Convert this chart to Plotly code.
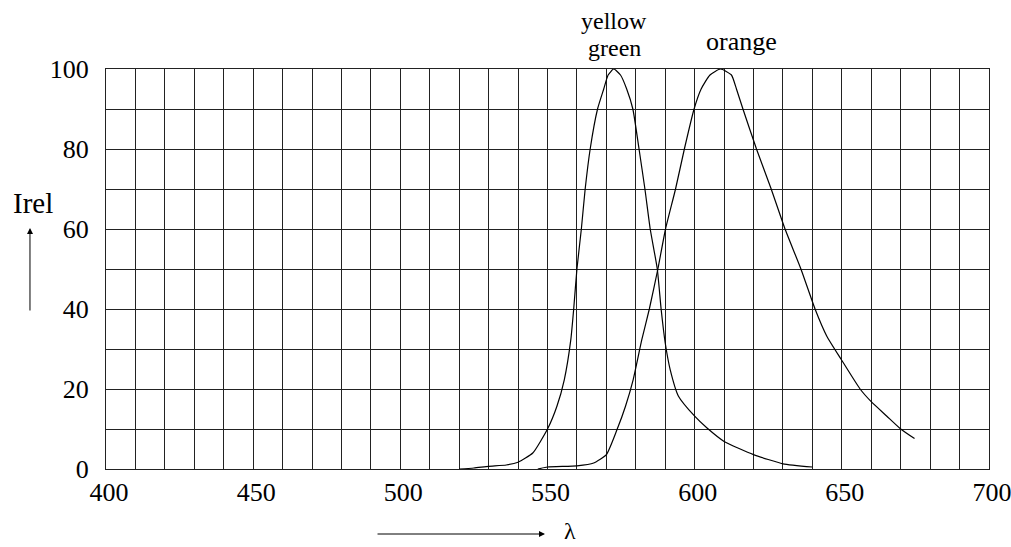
import plotly.graph_objects as go

# Yellow-green spectrum (wavelength nm, relative intensity %)
yg_wl = [520, 525, 530, 536, 540, 545, 550, 553.2, 555.7, 557.9, 558.9, 560, 561.5, 562.8,
         564.5, 567, 569.1, 570.6, 572.5, 574.8, 576.9, 579.0, 581.1, 583.1, 584.9, 587.3, 588.6,
         590, 591.7, 594.5, 600, 604.2, 610, 620, 630, 640]
yg_rel = [0, 0.25, 0.67, 1.0, 1.7, 4, 10, 15.7, 22.3, 32.2, 40, 50, 60, 70,
          80, 90, 95, 98.5, 100, 98.5, 95, 90, 80, 70, 60, 50, 40,
          31.5, 24.8, 18.2, 13.2, 10.25, 6.9, 3.6, 1.3, 0.5]

# Orange spectrum
or_wl = [546.7, 550, 560, 565.7, 570, 573.6, 576.5, 579.1, 582.0, 584.6, 587.5, 590.1, 593.5,
         596.5, 599.8, 602.2, 605.2, 608.8, 612.5, 614.2, 616.4, 621.0, 626.0, 630.7, 636.1, 640.9,
         644.9, 649.7, 656.2, 659.9, 665.3, 670, 674.7]
or_rel = [0, 0.5, 0.8, 1.5, 3.6, 9.8, 15.7, 22.3, 32.2, 40, 50, 60, 70,
          80, 90, 95, 98.5, 100, 98.5, 95, 90, 80, 70, 60, 50, 40,
          33.2, 27.5, 20, 16.9, 13.2, 10, 7.6]

x_ticks = [400, 450, 500, 550, 600, 650, 700]
y_ticks = [0, 20, 40, 60, 80, 100]

FONT = "Liberation Serif"
GRID = "#222222"

fig = go.Figure()
fig.add_trace(go.Scatter(x=yg_wl, y=yg_rel, mode="lines", name="yellow green",
                         line=dict(color="black", width=1.2, shape="spline", smoothing=0.5)))
fig.add_trace(go.Scatter(x=or_wl, y=or_rel, mode="lines", name="orange",
                         line=dict(color="black", width=1.2, shape="spline", smoothing=0.5)))

fig.update_layout(
    width=1011, height=547,
    margin=dict(l=106, r=22, t=69, b=78, pad=0),
    paper_bgcolor="white", plot_bgcolor="white",
    showlegend=False,
    font=dict(family=FONT, size=26, color="black"),
    xaxis=dict(range=[400, 700], tickvals=x_ticks, ticktext=[str(v) for v in x_ticks],
               showgrid=True, gridcolor=GRID, gridwidth=1,
               minor=dict(dtick=10, tick0=400, showgrid=True, gridcolor=GRID, gridwidth=1),
               showline=True, linecolor=GRID, linewidth=1, mirror=True,
               zeroline=False, ticks="", ticklabelstandoff=0, ticklabelshift=3,
               ticklabeloverflow="allow", automargin=False,
               tickfont=dict(family=FONT, size=26, color="black")),
    yaxis=dict(range=[0, 100], tickvals=y_ticks, ticktext=[str(v) for v in y_ticks],
               showgrid=True, gridcolor=GRID, gridwidth=1,
               minor=dict(dtick=10, tick0=0, showgrid=True, gridcolor=GRID, gridwidth=1),
               showline=True, linecolor=GRID, linewidth=1, mirror=True,
               zeroline=False, ticks="", ticklabelstandoff=11,
               ticklabeloverflow="allow", automargin=False,
               tickfont=dict(family=FONT, size=26, color="black")),
)

annotations = [
    dict(text="yellow", x=572.7, y=1.12, xref="x", yref="paper",
         showarrow=False, xanchor="center", yanchor="middle",
         font=dict(family=FONT, size=24, color="black")),
    dict(text="green", x=572.7, y=1.0525, xref="x", yref="paper",
         showarrow=False, xanchor="center", yanchor="middle",
         font=dict(family=FONT, size=24, color="black")),
    dict(text="orange", x=615.8, y=1.068, xref="x", yref="paper",
         showarrow=False, xanchor="center", yanchor="middle",
         font=dict(family=FONT, size=26, color="black")),
    dict(text="Irel", x=-0.0827, y=0.665, xref="paper", yref="paper",
         showarrow=False, xanchor="center", yanchor="middle",
         font=dict(family=FONT, size=29, color="black")),
    # up arrow next to Irel
    dict(text="", x=-0.0861, y=0.6025, xref="paper", yref="paper",
         showarrow=True, ax=0, ay=84, axref="pixel", ayref="pixel",
         arrowhead=2, arrowsize=1.2, arrowwidth=1, arrowcolor="black", standoff=0),
    # right arrow for lambda
    dict(text="", x=0.4972, y=-0.1625, xref="paper", yref="paper",
         showarrow=True, ax=-169, ay=0, axref="pixel", ayref="pixel",
         arrowhead=2, arrowsize=1.2, arrowwidth=1, arrowcolor="black", standoff=0),
    dict(text="λ", x=0.5255, y=-0.154, xref="paper", yref="paper",
         showarrow=False, xanchor="center", yanchor="middle",
         font=dict(family=FONT, size=24, color="black")),
]
fig.update_layout(annotations=annotations)

fig.write_html("out.html", config={"displayModeBar": False},
               post_script="document.body.style.margin='0';document.body.style.overflow='hidden';")
